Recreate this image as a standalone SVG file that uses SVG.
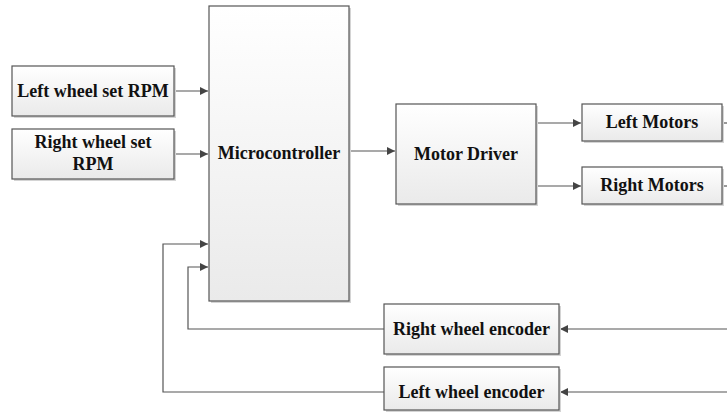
<svg xmlns="http://www.w3.org/2000/svg" width="727" height="414" viewBox="0 0 727 414">
  <style>
    .box { fill: url(#boxFill); stroke: #555; stroke-width: 1.2; }
    .shadow { fill: #d4d4d4; }
    .lbl { font-family: "Liberation Serif", "Times New Roman", serif; font-weight: bold; font-size: 18px; fill: #111; text-anchor: middle; }
    .wire { fill: none; stroke: #555; stroke-width: 1.2; }
  </style>
  <defs>
    <linearGradient id="boxFill" x1="0" y1="0" x2="0" y2="1">
      <stop offset="0" stop-color="#ffffff"/>
      <stop offset="1" stop-color="#eaeaea"/>
    </linearGradient>
    <marker id="arrow" viewBox="0 0 10 10" refX="10" refY="5" markerWidth="9" markerHeight="8" markerUnits="userSpaceOnUse" orient="auto">
      <path d="M0,0 L10,5 L0,10 Z" fill="#444"/>
    </marker>
  </defs>

  <!-- connectors -->
  <g id="connectors">
    <path class="wire" d="M174,91 H208" marker-end="url(#arrow)"/>
    <path class="wire" d="M174,154 H208" marker-end="url(#arrow)"/>
    <path class="wire" d="M349,151 H395" marker-end="url(#arrow)"/>
    <path class="wire" d="M536,123 H581" marker-end="url(#arrow)"/>
    <path class="wire" d="M536,186 H581" marker-end="url(#arrow)"/>
    <path class="wire" d="M722,123 H727"/>
    <path class="wire" d="M722,186 H727"/>
    <path class="wire" d="M727,329 H560" marker-end="url(#arrow)"/>
    <path class="wire" d="M727,392 H560" marker-end="url(#arrow)"/>
    <path class="wire" d="M384,329 H188 V267 H208" marker-end="url(#arrow)"/>
    <path class="wire" d="M384,392 H163 V244 H208" marker-end="url(#arrow)"/>
  </g>

  <g id="left-rpm">
    <rect class="shadow" x="14" y="68" width="162" height="50"/>
    <rect class="box" x="12" y="66" width="162" height="50"/>
    <text class="lbl" x="93" y="97">Left wheel set RPM</text>
  </g>

  <g id="right-rpm">
    <rect class="shadow" x="14" y="131" width="162" height="50"/>
    <rect class="box" x="12" y="129" width="162" height="50"/>
    <text class="lbl" x="93" y="148">Right wheel set</text>
    <text class="lbl" x="93" y="170">RPM</text>
  </g>

  <g id="microcontroller">
    <rect class="shadow" x="211" y="8" width="140" height="295"/>
    <rect class="box" x="209" y="6" width="140" height="295"/>
    <text class="lbl" x="279" y="159">Microcontroller</text>
  </g>

  <g id="motor-driver">
    <rect class="shadow" x="398" y="106" width="140" height="100"/>
    <rect class="box" x="396" y="104" width="140" height="100"/>
    <text class="lbl" x="466" y="160">Motor Driver</text>
  </g>

  <g id="left-motors">
    <rect class="shadow" x="584" y="106" width="140" height="37"/>
    <rect class="box" x="582" y="104" width="140" height="37"/>
    <text class="lbl" x="652" y="128">Left Motors</text>
  </g>

  <g id="right-motors">
    <rect class="shadow" x="584" y="169" width="140" height="37"/>
    <rect class="box" x="582" y="167" width="140" height="37"/>
    <text class="lbl" x="652" y="191">Right Motors</text>
  </g>

  <g id="right-encoder">
    <rect class="shadow" x="386" y="306" width="175" height="50"/>
    <rect class="box" x="384" y="304" width="175" height="50"/>
    <text class="lbl" x="471.5" y="335">Right wheel encoder</text>
  </g>

  <g id="left-encoder">
    <rect class="shadow" x="386" y="369" width="175" height="43"/>
    <rect class="box" x="384" y="367" width="175" height="43"/>
    <text class="lbl" x="471.5" y="398">Left wheel encoder</text>
  </g>
</svg>
